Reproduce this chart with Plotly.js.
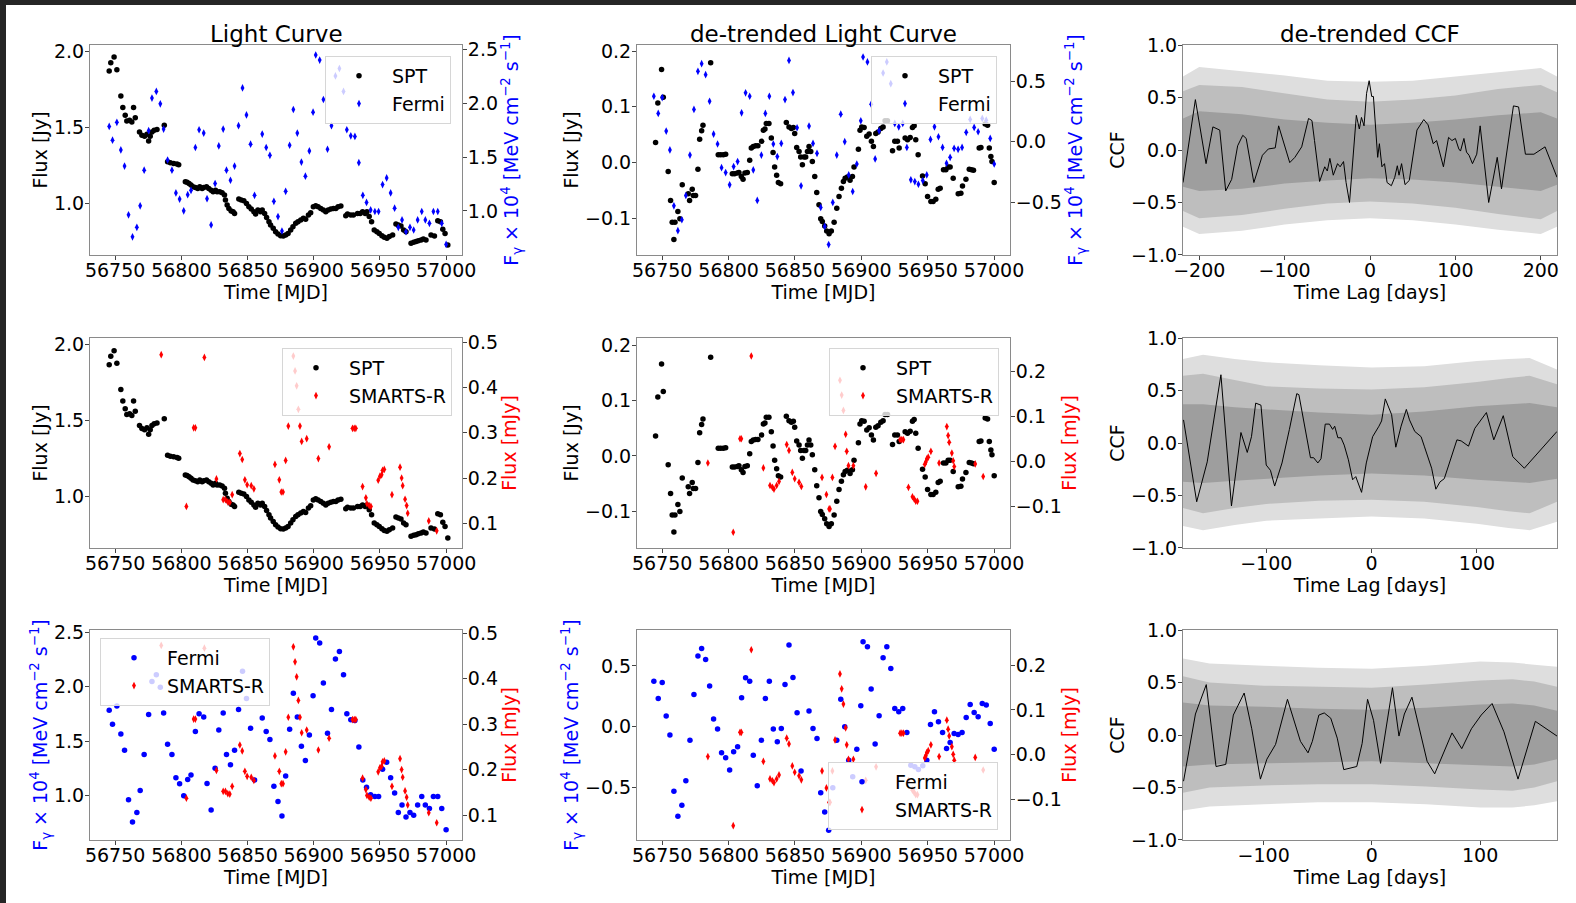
<!DOCTYPE html>
<html><head><meta charset="utf-8">
<script src="https://cdn.plot.ly/plotly-3.0.1.min.js"></script>
<style>html,body{margin:0;padding:0;background:#262626;}</style>
</head><body><div id="chart" style="width:1576px;height:903px;"></div>
<script>
// ---------------- DATA ----------------
const sptTime = [56745.5,56746.7,56749.2,56751.3,56754.3,56755.8,56757.6,56758.8,56760.9,56762.6,56763.9,56765.2,56768.4,56770.2,56772.2,56774.0,56775.3,56776.5,56777.8,56779.5,56781.6,56787.1,56789.6,56791.7,56794.2,56796.7,56798.0,56803.0,56804.3,56805.8,56807.3,56808.8,56810.6,56812.4,56813.9,56815.7,56816.9,56819.0,56820.7,56822.5,56824.0,56825.8,56827.0,56829.0,56830.8,56832.6,56833.3,56834.6,56835.9,56837.6,56839.1,56840.2,56843.4,56845.2,56847.2,56849.2,56851.0,56852.8,56854.8,56856.1,56857.8,56859.8,56861.1,56862.9,56864.4,56866.2,56867.4,56869.4,56871.2,56873.0,56875.0,56877.0,56878.8,56880.6,56882.6,56884.3,56886.4,56888.1,56890.2,56892.2,56893.9,56896.0,56897.7,56899.7,56901.5,56903.3,56905.3,56907.3,56909.1,56910.9,56912.9,56914.9,56916.7,56918.4,56920.5,56924.2,56925.5,56928.0,56930.0,56933.1,56935.1,56936.9,56938.9,56940.2,56941.9,56943.7,56945.7,56947.7,56949.5,56951.5,56953.3,56955.3,56957.1,56959.6,56962.1,56963.9,56965.9,56967.9,56969.7,56973.5,56975.5,56977.3,56979.0,56981.1,56982.8,56984.8,56988.6,56991.2,56993.7,56995.7,56997.5,56999.2,57001.3];
const sptFlux = [1.869,1.924,1.961,1.878,1.705,1.629,1.579,1.541,1.546,1.535,1.629,1.563,1.469,1.448,1.441,1.454,1.410,1.441,1.469,1.480,1.485,1.513,1.273,1.266,1.262,1.258,1.253,1.142,1.138,1.131,1.120,1.109,1.105,1.098,1.109,1.098,1.105,1.109,1.098,1.087,1.076,1.087,1.076,1.076,1.070,1.055,1.022,0.989,0.967,0.950,0.945,0.934,1.028,1.022,1.017,1.000,0.978,0.963,0.945,0.930,0.956,0.945,0.956,0.934,0.908,0.880,0.858,0.836,0.814,0.799,0.788,0.786,0.793,0.803,0.825,0.847,0.869,0.880,0.891,0.902,0.895,0.924,0.939,0.978,0.985,0.978,0.967,0.956,0.945,0.956,0.963,0.967,0.967,0.978,0.983,0.919,0.930,0.924,0.924,0.934,0.934,0.945,0.934,0.945,0.913,0.880,0.825,0.814,0.803,0.788,0.777,0.771,0.782,0.793,0.865,0.858,0.852,0.825,0.814,0.738,0.745,0.749,0.755,0.760,0.766,0.760,0.793,0.786,0.886,0.880,0.830,0.803,0.727];

const sptDetrTime = [56745.0,56746.7,56749.5,56750.8,56754.5,56756.3,56757.5,56758.8,56759.6,56761.8,56763.3,56765.1,56769.6,56770.6,56772.6,56773.4,56775.1,56776.9,56778.2,56779.7,56780.7,56786.5,56792.2,56794.0,56796.0,56797.8,56802.8,56804.5,56806.6,56807.8,56809.6,56810.9,56812.3,56814.1,56815.9,56817.1,56818.6,56820.4,56822.1,56824.9,56826.2,56827.4,56828.4,56830.4,56832.2,56833.5,56834.7,56836.2,56837.5,56839.2,56843.5,56845.5,56847.3,56848.8,56849.8,56851.3,56853.1,56854.3,56855.6,56856.8,56858.1,56859.4,56860.6,56861.9,56863.1,56864.9,56866.4,56868.1,56869.4,56870.6,56872.4,56873.9,56875.7,56877.4,56879.5,56881.5,56883.2,56885.0,56886.5,56887.8,56889.5,56891.5,56893.3,56894.5,56897.8,56899.0,56900.3,56902.1,56904.1,56905.9,56907.6,56909.1,56910.9,56912.6,56914.7,56916.4,56917.9,56919.7,56923.5,56925.2,56927.2,56928.5,56933.0,56934.8,56936.8,56938.5,56939.8,56941.0,56942.8,56946.1,56948.1,56949.9,56952.4,56954.1,56956.1,56957.9,56959.4,56961.9,56963.7,56965.4,56966.9,56969.2,56973.0,56975.0,56976.2,56978.8,56981.3,56983.0,56984.5,56988.8,56990.1,56993.3,56995.1,56996.4,56997.6,56998.4,57000.1];
const sptDetrFlux = [0.036,0.107,0.167,0.117,-0.016,-0.068,-0.107,-0.138,-0.107,-0.088,-0.101,-0.040,-0.056,-0.068,-0.048,-0.059,-0.059,-0.012,0.042,0.057,0.067,0.179,0.014,0.014,0.014,0.015,-0.020,-0.020,-0.019,-0.018,-0.025,-0.030,-0.019,-0.018,0.004,0.026,0.029,0.030,0.030,0.038,0.058,0.060,0.070,0.070,0.044,0.018,-0.008,-0.023,-0.036,-0.038,0.072,0.064,0.061,0.063,0.052,0.027,0.020,0.010,-0.004,0.010,0.010,0.020,0.029,0.020,0.002,-0.025,-0.054,-0.076,-0.101,-0.106,-0.114,-0.123,-0.128,-0.123,-0.107,-0.082,-0.061,-0.046,-0.034,-0.028,-0.026,-0.032,-0.025,-0.008,0.024,0.058,0.064,0.063,0.047,0.051,0.038,0.029,0.052,0.055,0.061,0.064,0.075,0.075,0.021,0.038,0.038,0.026,0.044,0.041,0.045,0.063,0.066,0.041,0.014,-0.024,-0.038,-0.061,-0.070,-0.070,-0.066,-0.048,-0.046,-0.013,-0.013,-0.008,-0.008,-0.028,-0.056,-0.055,-0.042,-0.030,-0.012,-0.013,-0.014,0.026,0.027,0.069,0.067,0.026,0.011,0.002,-0.036];

const fermiTime = [56745.5,56748.0,56751.3,56754.3,56757.1,56760.1,56763.1,56766.4,56768.9,56771.9,56775.3,56777.8,56781.1,56784.1,56786.6,56789.6,56792.9,56795.9,56798.7,56801.8,56804.8,56807.3,56810.6,56813.4,56816.9,56819.4,56822.5,56825.5,56828.3,56831.6,56834.1,56837.1,56840.2,56843.2,56846.2,56849.2,56852.3,56855.3,56861.1,56864.1,56866.9,56869.9,56873.0,56876.0,56878.8,56881.8,56884.6,56887.6,56890.7,56893.7,56896.7,56899.5,56901.5,56904.5,56907.3,56910.4,56913.4,56916.4,56919.4,56922.5,56925.0,56928.0,56931.1,56934.1,56937.1,56939.9,56943.0,56946.2,56949.0,56952.0,56955.1,56958.1,56961.1,56963.9,56966.7,56969.7,56972.7,56975.5,56978.5,56981.6,56984.3,56987.4,56990.4,56993.7,56996.7,57000.0];
const fermiFlux = [1.784,1.656,1.822,1.566,1.416,0.963,0.759,0.847,1.047,1.378,1.744,2.047,2.109,1.994,1.759,1.472,1.378,1.166,1.109,1.000,1.150,1.191,1.588,1.753,1.722,1.113,0.869,1.253,1.603,1.759,1.378,1.284,1.416,1.791,2.141,1.891,1.619,1.144,1.713,1.588,1.516,1.088,0.947,0.813,1.181,1.609,1.941,1.722,1.453,1.322,1.556,1.916,2.447,2.400,2.034,1.572,1.791,2.253,2.322,2.109,1.753,1.697,1.691,1.447,1.144,1.078,1.009,0.994,0.994,1.244,1.306,1.166,1.025,0.847,0.916,0.806,0.847,0.822,0.916,0.994,0.916,0.884,0.994,0.994,0.884,0.688];

const fermiDetrTime = [56743.7,56747.0,56750.0,56753.0,56755.8,56758.8,56761.8,56764.8,56767.8,56770.9,56773.9,56776.9,56779.7,56782.7,56785.7,56788.7,56791.7,56794.7,56797.8,56800.8,56803.8,56806.8,56809.8,56812.8,56815.9,56818.6,56821.6,56824.7,56827.7,56830.7,56833.7,56836.7,56839.7,56842.5,56845.5,56848.5,56851.6,56854.6,56860.6,56863.6,56866.6,56869.4,56872.4,56875.4,56878.5,56881.5,56884.5,56887.5,56890.5,56893.5,56896.6,56899.6,56901.3,56904.6,56907.4,56910.4,56913.4,56916.4,56919.2,56922.2,56925.2,56928.2,56931.2,56934.3,56937.3,56940.3,56943.0,56946.3,56949.3,56952.1,56955.1,56958.1,56961.2,56964.2,56966.9,56969.9,56972.9,56975.9,56979.0,56982.0,56985.0,56988.0,56991.1,56994.1,56997.1,57000.1];
const fermiDetrFlux = [0.375,0.233,0.364,0.088,-0.068,-0.529,-0.734,-0.644,-0.444,-0.110,0.266,0.581,0.644,0.553,0.334,0.063,-0.019,-0.214,-0.255,-0.356,-0.205,-0.164,0.238,0.403,0.375,-0.233,-0.485,-0.110,0.233,0.375,-0.019,-0.123,-0.014,0.348,0.671,0.405,0.115,-0.364,0.129,-0.014,-0.096,-0.542,-0.699,-0.849,-0.501,-0.110,0.227,0.000,-0.274,-0.411,-0.184,0.173,0.699,0.658,0.310,-0.142,0.090,0.567,0.658,0.479,0.151,0.123,0.151,-0.047,-0.315,-0.329,-0.351,-0.321,-0.274,0.019,0.123,0.041,-0.047,-0.178,-0.129,-0.055,-0.063,-0.047,0.077,0.184,0.118,0.082,0.192,0.178,0.027,-0.184];

const smartsTime = [56784.8,56803.8,56809.3,56810.6,56817.4,56826.5,56831.6,56833.3,56835.1,56836.6,56838.4,56844.2,56846.0,56848.0,56849.7,56852.8,56854.8,56870.7,56874.0,56875.5,56876.8,56878.8,56880.8,56884.6,56885.9,56887.1,56888.4,56889.6,56890.9,56894.7,56903.5,56911.6,56929.3,56930.6,56931.8,56936.9,56939.4,56940.2,56941.9,56943.2,56948.7,56950.0,56951.3,56952.0,56953.3,56959.1,56965.2,56966.4,56967.2,56969.0,56970.2,56971.0,56986.9,56992.9];
const smartsFlux = [0.473,0.137,0.311,0.311,0.467,0.198,0.152,0.152,0.147,0.146,0.163,0.254,0.241,0.196,0.185,0.183,0.176,0.230,0.196,0.169,0.169,0.239,0.315,0.470,0.437,0.404,0.352,0.315,0.281,0.287,0.243,0.269,0.310,0.310,0.310,0.181,0.156,0.143,0.139,0.137,0.195,0.204,0.207,0.217,0.219,0.163,0.224,0.200,0.183,0.153,0.139,0.122,0.105,0.083];

const smartsDetrTime = [56784.4,56803.5,56808.6,56809.6,56817.1,56826.2,56831.2,56833.0,56834.2,56836.2,56838.0,56843.8,56845.5,56848.0,56849.8,56853.1,56854.8,56870.4,56873.7,56875.7,56876.4,56878.2,56880.2,56883.9,56885.2,56886.5,56888.2,56889.0,56890.3,56894.0,56903.3,56911.1,56929.2,56930.5,56931.7,56935.5,56938.5,56939.8,56941.0,56942.3,56947.8,56948.6,56949.3,56950.4,56952.4,56958.6,56964.4,56965.4,56966.2,56968.2,56969.2,56970.0,56985.8,56991.8];
const smartsDetrFlux = [-0.004,-0.158,0.050,0.050,0.234,-0.015,-0.054,-0.058,-0.062,-0.054,-0.045,0.037,0.024,-0.025,-0.039,-0.047,-0.056,-0.036,-0.074,-0.106,-0.106,-0.036,0.033,0.180,0.147,0.113,0.060,0.022,-0.010,-0.010,-0.057,-0.027,0.048,0.048,0.048,-0.058,-0.079,-0.084,-0.089,-0.089,-0.007,-0.002,0.005,0.009,0.022,-0.004,0.077,0.057,0.042,0.018,0.001,-0.012,-0.006,-0.034];

// CCF SPT x Fermi
const ccf1Lag = [-219,-204.5,-192,-184,-176,-169,-162,-155,-149,-145,-136,-126,-119,-111,-107,-102,-94,-88,-80,-72,-68,-65,-59,-53,-50,-47,-43,-38,-35,-31,-28,-24,-16,-12.5,-10,-7,-4,-1,2,4,7,9,11,14,17,20,25,29,32,34,37,41,46,55,63,68,74,78,86,92,96,100,104,106,110,113,116,120,125,129,139,149,154,168,174,182,192,205,219];
const ccf1Val = [-0.31,0.48,-0.13,0.22,0.19,-0.39,-0.28,0.04,0.14,0.11,-0.31,-0.05,0.01,0.02,0.23,0.09,-0.12,-0.07,0.03,0.30,0.28,0.09,-0.30,-0.16,-0.20,-0.08,-0.24,-0.13,-0.16,-0.11,-0.31,-0.50,0.33,0.20,0.31,0.23,0.54,0.66,0.51,0.51,0.19,-0.07,0.06,-0.16,-0.13,-0.31,-0.34,-0.26,-0.15,-0.24,-0.13,-0.33,-0.29,0.19,0.29,0.24,0.06,0.09,-0.16,0.12,0.09,0.11,0.01,-0.01,0.11,-0.02,-0.05,-0.13,-0.04,0.23,-0.50,-0.07,-0.37,0.42,0.41,-0.04,-0.04,0.03,-0.26];
const band1Lag = [-219,-200,-150,-100,-50,0,50,100,150,200,219];
const band1 = {
  outerHi: [0.70,0.79,0.75,0.71,0.66,0.65,0.66,0.70,0.74,0.78,0.70],
  midHi:   [0.56,0.62,0.60,0.54,0.48,0.46,0.48,0.52,0.58,0.62,0.55],
  innerHi: [0.30,0.37,0.34,0.29,0.26,0.24,0.26,0.29,0.33,0.36,0.30],
  innerLo: [-0.35,-0.39,-0.37,-0.32,-0.29,-0.27,-0.28,-0.31,-0.35,-0.39,-0.33],
  midLo:   [-0.58,-0.65,-0.62,-0.56,-0.51,-0.49,-0.51,-0.55,-0.61,-0.66,-0.58],
  outerLo: [-0.73,-0.80,-0.77,-0.71,-0.67,-0.65,-0.67,-0.71,-0.76,-0.80,-0.73]
};
// CCF SPT x SMARTS
const ccf2Lag = [-178.5,-166,-156,-150,-143,-133,-124,-118,-114,-110,-105,-100,-96,-92,-85,-78,-71,-69,-58,-55,-51,-48,-44,-40,-37,-35,-32,-29,-26,-22,-18,-15,-9.5,-5,1,7,9.5,13,19,23,28,33,36,41,47,50,57,61,65,69,81,85,92,98,109,116,125,134,145,176];
const ccf2Val = [0.22,-0.56,-0.18,0.19,0.65,-0.60,0.10,-0.09,0.06,0.38,0.36,-0.21,-0.26,-0.41,-0.19,0.13,0.47,0.46,-0.14,-0.14,-0.19,-0.15,0.18,0.18,0.13,0.16,0.05,0.05,-0.02,-0.16,-0.35,-0.32,-0.47,-0.19,0.06,0.16,0.21,0.42,0.27,-0.04,0.16,0.32,0.22,0.11,0.06,-0.03,-0.24,-0.44,-0.37,-0.34,0.03,0.02,-0.03,0.14,0.29,0.03,0.26,-0.13,-0.24,0.11];
const band2Lag = [-179,-160,-130,-100,-50,0,50,100,130,150,176];
const band2 = {
  outerHi: [0.80,0.84,0.80,0.77,0.74,0.72,0.73,0.78,0.80,0.81,0.70],
  midHi:   [0.64,0.66,0.60,0.54,0.52,0.51,0.53,0.58,0.62,0.64,0.56],
  innerHi: [0.37,0.37,0.34,0.32,0.29,0.27,0.30,0.35,0.37,0.38,0.34],
  innerLo: [-0.37,-0.38,-0.36,-0.34,-0.31,-0.29,-0.31,-0.35,-0.37,-0.38,-0.34],
  midLo:   [-0.62,-0.67,-0.62,-0.58,-0.55,-0.54,-0.56,-0.61,-0.65,-0.67,-0.56],
  outerLo: [-0.79,-0.83,-0.78,-0.74,-0.72,-0.70,-0.72,-0.77,-0.81,-0.83,-0.75]
};
// CCF Fermi x SMARTS
const ccf3Lag = [-174,-163,-153,-144,-135,-128,-118,-111,-103,-97,-89,-78,-66,-59,-55,-49,-44,-38,-32,-26,-14,-9,-4,1.5,8,19,25,30,37,45,51,58,74,83,92,101,111,122,135,151,171];
const ccf3Val = [-0.44,0.20,0.48,-0.30,-0.28,0.19,0.40,0.06,-0.42,-0.23,-0.09,0.34,-0.06,-0.17,-0.06,0.19,0.21,0.16,-0.03,-0.33,-0.30,-0.08,0.34,0.14,-0.27,0.45,-0.01,0.20,0.36,0.00,-0.25,-0.37,0.02,-0.13,0.06,0.19,0.30,0.03,-0.42,0.13,-0.01];
const band3Lag = [-175,-150,-100,-50,0,50,100,130,150,171];
const band3 = {
  outerHi: [0.73,0.68,0.66,0.64,0.63,0.66,0.70,0.69,0.67,0.65],
  midHi:   [0.56,0.50,0.47,0.46,0.45,0.48,0.52,0.53,0.51,0.46],
  innerHi: [0.31,0.28,0.27,0.25,0.24,0.26,0.29,0.30,0.28,0.23],
  innerLo: [-0.30,-0.28,-0.27,-0.26,-0.25,-0.27,-0.29,-0.30,-0.28,-0.23],
  midLo:   [-0.55,-0.50,-0.48,-0.47,-0.47,-0.49,-0.52,-0.53,-0.50,-0.44],
  outerLo: [-0.72,-0.68,-0.66,-0.64,-0.64,-0.66,-0.69,-0.69,-0.67,-0.63]
};

const panelTitles = ['Light Curve', 'de-trended Light Curve', 'de-trended CCF'];

// ---------------- LAYOUT HELPERS ----------------
const W = 1576, H = 903, F = 'DejaVu Sans';
const cols = [[90, 462], [637, 1010], [1183, 1557]];
const rows = [[45, 255], [338, 548], [630, 840]];
const BLUE = '#0000ff', RED = '#ff0000';
const fermiLabel = 'F<sub>γ</sub> × 10<sup>4</sup> [MeV cm<sup>−2</sup> s<sup>−1</sup>]';

const base = {showline: true, linecolor: '#8a8a8a', linewidth: 1, ticks: 'outside', ticklen: 4,
  tickwidth: 1, tickcolor: '#444', tickfont: {family: F, size: 19, color: '#000'},
  showgrid: false, zeroline: false, automargin: false};

function ttl(text, color, standoff) {
  return {text: text, font: {family: F, size: 19, color: color || '#000'}, standoff: standoff};
}
function xAxis(c, r, yref, range, dtick, fmt, title) {
  return Object.assign({}, base, {domain: [cols[c][0] / W, cols[c][1] / W], anchor: yref,
    range: range, tick0: 0, dtick: dtick, tickformat: fmt, mirror: true, ticklabelstandoff: -6,
    title: ttl(title, '#000', 2)});
}
function yAxis(r, xref, range, dtick, title, color, opts) {
  return Object.assign({}, base, {domain: [1 - rows[r][1] / H, 1 - rows[r][0] / H], anchor: xref,
    range: range, tick0: 0, dtick: dtick, tickformat: '.1f', ticklabelstandoff: -3,
    title: ttl(title, color, 1)}, opts || {});
}

const layout = {
  width: W, height: H, margin: {l: 0, r: 0, t: 0, b: 0},
  paper_bgcolor: '#262626', plot_bgcolor: '#ffffff',
  font: {family: F, size: 19, color: '#000'},
  shapes: [{type: 'rect', xref: 'paper', yref: 'paper', x0: 6 / W, x1: 1, y0: 0, y1: 1 - 5 / H,
    fillcolor: '#ffffff', line: {width: 0}, layer: 'below'}],
  annotations: panelTitles.map((t, i) => ({text: t, xref: 'paper', yref: 'paper',
    x: (cols[i][0] + cols[i][1]) / 2 / W, y: 1 - 49 / H, xanchor: 'center', yanchor: 'bottom',
    showarrow: false, font: {family: F, size: 23, color: '#000'}})),
  // panel 1
  xaxis: xAxis(0, 0, 'y', [56731, 57012], 50, 'd', 'Time [MJD]'),
  yaxis: yAxis(0, 'x', [0.661, 2.04], 0.5, 'Flux [Jy]', '#000'),
  yaxis2: yAxis(0, 'x', [0.59, 2.54], 0.5, fermiLabel, BLUE, {overlaying: 'y', side: 'right'}),
  // panel 2
  xaxis2: xAxis(1, 0, 'y3', [56731, 57012], 50, 'd', 'Time [MJD]'),
  yaxis3: yAxis(0, 'x2', [-0.166, 0.211], 0.1, 'Flux [Jy]', '#000'),
  yaxis4: yAxis(0, 'x2', [-0.935, 0.798], 0.5, fermiLabel, BLUE, {overlaying: 'y3', side: 'right'}),
  // panel 3
  xaxis3: xAxis(2, 0, 'y5', [-219, 219], 100, 'd', 'Time Lag [days]'),
  yaxis5: yAxis(0, 'x3', [-1.0001, 1.0001], 0.5, 'CCF', '#000', {mirror: true}),
  // panel 4
  xaxis4: xAxis(0, 1, 'y6', [56731, 57012], 50, 'd', 'Time [MJD]'),
  yaxis6: yAxis(1, 'x4', [0.661, 2.045], 0.5, 'Flux [Jy]', '#000'),
  yaxis7: yAxis(1, 'x4', [0.045, 0.51], 0.1, 'Flux [mJy]', RED, {overlaying: 'y6', side: 'right'}),
  // panel 5
  xaxis5: xAxis(1, 1, 'y8', [56731, 57012], 50, 'd', 'Time [MJD]'),
  yaxis8: yAxis(1, 'x5', [-0.167, 0.214], 0.1, 'Flux [Jy]', '#000'),
  yaxis9: yAxis(1, 'x5', [-0.193, 0.274], 0.1, 'Flux [mJy]', RED, {overlaying: 'y8', side: 'right'}),
  // panel 6
  xaxis6: xAxis(2, 1, 'y10', [-179, 176], 100, 'd', 'Time Lag [days]'),
  yaxis10: yAxis(1, 'x6', [-1.0001, 1.0001], 0.5, 'CCF', '#000', {mirror: true}),
  // panel 7
  xaxis7: xAxis(0, 2, 'y11', [56731, 57012], 50, 'd', 'Time [MJD]'),
  yaxis11: yAxis(2, 'x7', [0.594, 2.52], 0.5, fermiLabel, BLUE),
  yaxis12: yAxis(2, 'x7', [0.045, 0.507], 0.1, 'Flux [mJy]', RED, {overlaying: 'y11', side: 'right'}),
  // panel 8
  xaxis8: xAxis(1, 2, 'y13', [56731, 57012], 50, 'd', 'Time [MJD]'),
  yaxis13: yAxis(2, 'x8', [-0.93, 0.795], 0.5, fermiLabel, BLUE),
  yaxis14: yAxis(2, 'x8', [-0.19, 0.278], 0.1, 'Flux [mJy]', RED, {overlaying: 'y13', side: 'right'}),
  // panel 9
  xaxis9: xAxis(2, 2, 'y15', [-174.5, 171], 100, 'd', 'Time Lag [days]'),
  yaxis15: yAxis(2, 'x9', [-1.0001, 1.0001], 0.5, 'CCF', '#000', {mirror: true})
};

function legendBox(x, y, xa, ya) {
  return {x: x, y: y, xanchor: xa, yanchor: ya, bgcolor: 'rgba(255,255,255,0.8)',
    bordercolor: '#d6d6d6', borderwidth: 1, font: {family: F, size: 19, color: '#000'},
    itemsizing: 'trace', itemwidth: 56, traceorder: 'normal', tracegroupgap: 0};
}
layout.legend  = legendBox(451 / W, 1 - 56 / H, 'right', 'top');
layout.legend2 = legendBox(997 / W, 1 - 56 / H, 'right', 'top');
layout.legend3 = legendBox(452 / W, 1 - 348 / H, 'right', 'top');
layout.legend4 = legendBox(999 / W, 1 - 348 / H, 'right', 'top');
layout.legend5 = legendBox(100 / W, 1 - 638 / H, 'left', 'top');
layout.legend6 = legendBox(998 / W, 1 - 830 / H, 'right', 'bottom');

// ---------------- TRACES ----------------
const dot = (color) => ({color: color, size: 5.5, symbol: 'circle', line: {width: 0}});
const dia = (color) => ({color: color, size: 5.5, symbol: 'diamond-tall', line: {width: 0}});
function pts(name, x, y, xa, ya, marker, legend) {
  return {type: 'scatter', mode: 'markers', name: name, x: x, y: y, xaxis: xa, yaxis: ya,
    marker: marker, legend: legend, hoverinfo: 'x+y'};
}
function bandTraces(lag, b, xa, ya) {
  const pairs = [['outerLo', 'outerHi', 'rgb(222,222,222)'], ['midLo', 'midHi', 'rgb(190,190,190)'],
                 ['innerLo', 'innerHi', 'rgb(158,158,158)']];
  const out = [];
  pairs.forEach(p => {
    out.push({type: 'scatter', mode: 'lines', x: lag, y: b[p[0]], xaxis: xa, yaxis: ya,
      line: {width: 0, color: p[2]}, showlegend: false, hoverinfo: 'skip'});
    out.push({type: 'scatter', mode: 'lines', x: lag, y: b[p[1]], xaxis: xa, yaxis: ya,
      line: {width: 0, color: p[2]}, fill: 'tonexty', fillcolor: p[2], showlegend: false, hoverinfo: 'skip'});
  });
  return out;
}
function ccfLine(lag, val, xa, ya) {
  return {type: 'scatter', mode: 'lines', x: lag, y: val, xaxis: xa, yaxis: ya,
    line: {color: '#000', width: 1}, showlegend: false};
}

const traces = [
  pts('SPT', sptTime, sptFlux, 'x', 'y', dot('#000'), 'legend'),
  pts('Fermi', fermiTime, fermiFlux, 'x', 'y2', dia(BLUE), 'legend'),
  pts('SPT', sptDetrTime, sptDetrFlux, 'x2', 'y3', dot('#000'), 'legend2'),
  pts('Fermi', fermiDetrTime, fermiDetrFlux, 'x2', 'y4', dia(BLUE), 'legend2'),
  ...bandTraces(band1Lag, band1, 'x3', 'y5'),
  ccfLine(ccf1Lag, ccf1Val, 'x3', 'y5'),
  pts('SPT', sptTime, sptFlux, 'x4', 'y6', dot('#000'), 'legend3'),
  pts('SMARTS-R', smartsTime, smartsFlux, 'x4', 'y7', dia(RED), 'legend3'),
  pts('SPT', sptDetrTime, sptDetrFlux, 'x5', 'y8', dot('#000'), 'legend4'),
  pts('SMARTS-R', smartsDetrTime, smartsDetrFlux, 'x5', 'y9', dia(RED), 'legend4'),
  ...bandTraces(band2Lag, band2, 'x6', 'y10'),
  ccfLine(ccf2Lag, ccf2Val, 'x6', 'y10'),
  pts('Fermi', fermiTime, fermiFlux, 'x7', 'y11', dot(BLUE), 'legend5'),
  pts('SMARTS-R', smartsTime, smartsFlux, 'x7', 'y12', dia(RED), 'legend5'),
  pts('Fermi', fermiDetrTime, fermiDetrFlux, 'x8', 'y13', dot(BLUE), 'legend6'),
  pts('SMARTS-R', smartsDetrTime, smartsDetrFlux, 'x8', 'y14', dia(RED), 'legend6'),
  ...bandTraces(band3Lag, band3, 'x9', 'y15'),
  ccfLine(ccf3Lag, ccf3Val, 'x9', 'y15')
];

Plotly.newPlot('chart', traces, layout, {displayModeBar: false, staticPlot: true});
</script></body></html>
